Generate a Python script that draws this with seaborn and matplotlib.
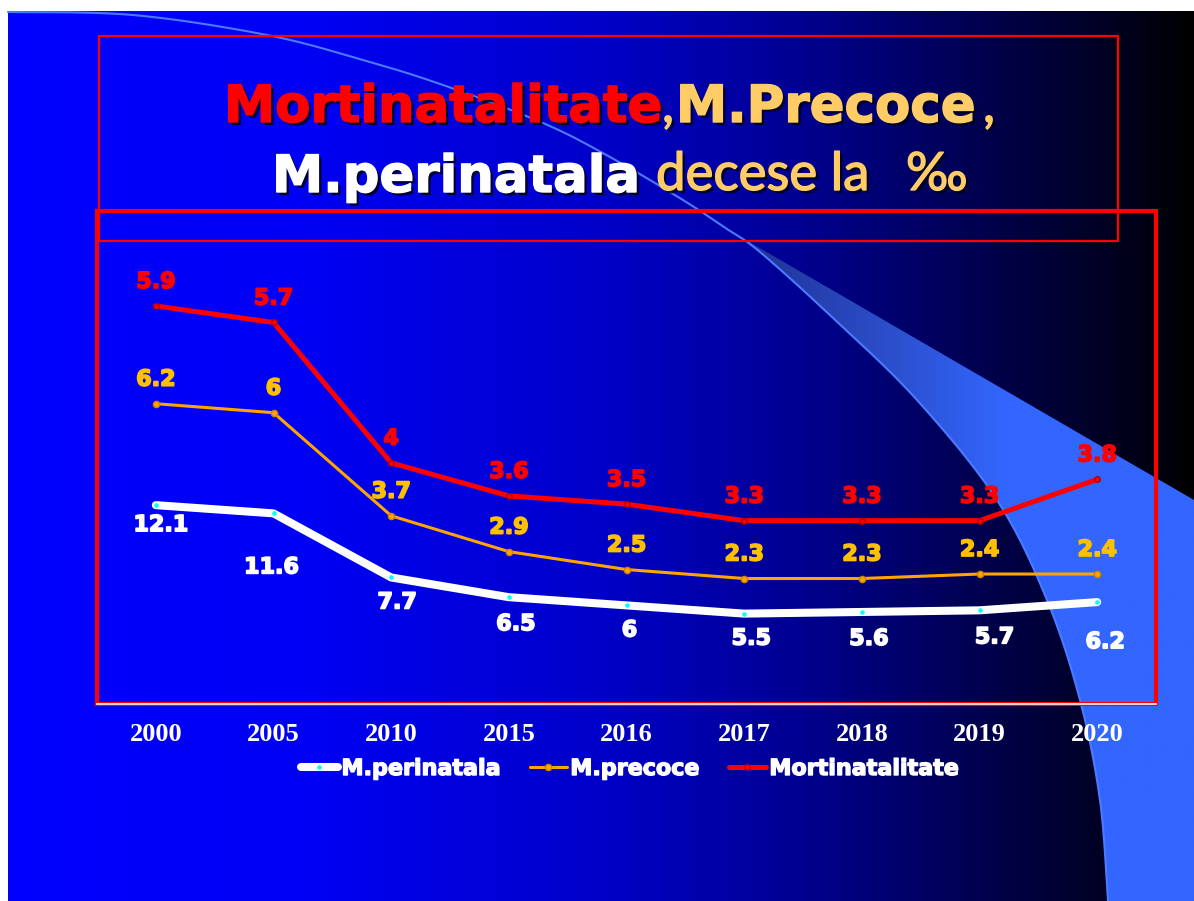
import numpy as np
import pandas as pd
import seaborn as sns
import matplotlib.pyplot as plt
import matplotlib.patheffects as pe
from matplotlib.patches import Rectangle, Polygon

# data
years = ['2000', '2005', '2010', '2015', '2016', '2017', '2018', '2019', '2020']
perinatala = [12.1, 11.6, 7.7, 6.5, 6, 5.5, 5.6, 5.7, 6.2]
precoce = [6.2, 6, 3.7, 2.9, 2.5, 2.3, 2.3, 2.4, 2.4]
mortinatalitate = [5.9, 5.7, 4, 3.6, 3.5, 3.3, 3.3, 3.3, 3.8]

# label offsets in pixels (dx, dy), dy positive = up
off_white = [(5, -20), (-2, -54), (6, -25), (7, -27), (3, -25), (7, -25), (7, -27), (15, -27), (8, -40)]

sns.set_theme(style='white')
plt.rcParams['font.family'] = ['DejaVu Sans']

W, H = 1194, 901
fig = plt.figure(figsize=(W / 100, H / 100), dpi=100, facecolor='white')


def smooth(pts, n=20):
    # catmull-rom through the given points
    p = np.array(pts, dtype=float)
    p = np.vstack([p[0], p, p[-1]])
    out = []
    for i in range(1, len(p) - 2):
        p0, p1, p2, p3 = p[i - 1], p[i], p[i + 1], p[i + 2]
        for t in np.linspace(0, 1, n, endpoint=False):
            t2, t3 = t * t, t * t * t
            out.append(0.5 * (2 * p1 + (-p0 + p2) * t + (2 * p0 - 5 * p1 + 4 * p2 - p3) * t2
                              + (-p0 + 3 * p1 - 3 * p2 + p3) * t3))
    out.append(p[-2])
    return [tuple(q) for q in out]


# ---- slide background ----
bg = fig.add_axes([0, 0, 1, 1], zorder=0)
bg.set_xlim(0, W)
bg.set_ylim(H, 0)
bg.axis('off')
gx = np.linspace(0, 1, 800)
blue = np.interp(gx, [0, .25, .5, .67, .84, .95, 1], [255, 245, 200, 144, 70, 25, 0]) / 255
grad = np.zeros((1, 800, 3))
grad[0, :, 2] = blue
bg.imshow(grad, extent=(8, W, H, 11), aspect='auto', interpolation='bilinear')

upper = smooth([(8, 12), (133, 15), (267, 35), (363, 60), (443, 85), (543, 123), (610, 157),
                (683, 200), (727, 229)])
lower = smooth([(727, 229), (760, 252), (833, 318), (917, 400), (997, 500),
                (1047, 600), (1080, 700), (1100, 800), (1108, 901)])
band = Polygon(lower + [(W, H), (W, 500)], closed=True, fc='none', ec='none')
bg.add_patch(band)
bx = np.linspace(0, 1, 400)
bgrad = np.zeros((1, 400, 3))
bgrad[0, :, 0] = np.interp(bx, [0, .35, .6, 1], [0.12, 0.17, 0.2, 0.2])
bgrad[0, :, 1] = np.interp(bx, [0, .35, .6, 1], [0.18, 0.31, 0.4, 0.4])
bgrad[0, :, 2] = np.interp(bx, [0, .35, .6, 1], [0.55, 0.8, 1.0, 1.0])
im = bg.imshow(bgrad, extent=(727, W, H, 229), aspect='auto', interpolation='bilinear')
im.set_clip_path(band)
cx, cy = zip(*(upper + lower))
bg.plot(cx, cy, color='#4A7BFF', lw=1.5)

# ---- boxes and title ----
ov = fig.add_axes([0, 0, 1, 1], zorder=1)
ov.set_xlim(0, W)
ov.set_ylim(H, 0)
ov.axis('off')
ov.patch.set_alpha(0)
ov.add_patch(Rectangle((99, 36), 1019, 205, fill=False, ec='red', lw=1.6))
ov.add_patch(Rectangle((97, 211), 1059, 493, fill=False, ec='red', lw=3))


def fx(color, w=1.0, shadow=True):
    eff = [pe.Stroke(linewidth=w, foreground=color), pe.Normal()]
    if shadow:
        eff = [pe.SimplePatchShadow(offset=(2.2, -2.2), shadow_rgbFace='#000018', alpha=0.85)] + eff
    return eff


heavy = dict(family='DejaVu Sans', weight='bold', size=37)
light = dict(family=['Lato', 'DejaVu Sans'], weight='normal', size=38)
title_pieces = [
    ('Mortinatalitate', 224, 122, '#FF0000', heavy),
    (',', 662, 122, '#FFCC66', light),
    ('M.Precoce', 676, 122, '#FFCC66', heavy),
    (',', 983, 122, '#FFCC66', light),
    ('M.perinatala', 272, 192, '#FFFFFF', heavy),
    ('decese la', 656, 190, '#FFCC66', light),
    ('\u2030', 906, 190, '#FFCC66', light),
]
for txt, x, y, c, font in title_pieces:
    ov.text(x, y, txt, color=c, ha='left', va='baseline', path_effects=fx(c), **font)

# ---- chart ----
df = pd.DataFrame({'pos': range(len(years)), 'M.perinatala': perinatala,
                   'M.precoce': precoce, 'Mortinatalitate': mortinatalitate})

ax = fig.add_axes([97 / W, 1 - 704 / H, 1059 / W, 493 / H], zorder=2)
ax.patch.set_alpha(0)
ax2 = ax.twinx()
ax3 = ax.twinx()

sns.lineplot(data=df, x='pos', y='M.perinatala', ax=ax, color='white', lw=5.8,
             marker='o', ms=2.5, mfc='cyan', mec='cyan', solid_capstyle='round',
             solid_joinstyle='round', label='M.perinatala', legend=False)
sns.lineplot(data=df, x='pos', y='M.precoce', ax=ax2, color='#FFA500', lw=2.2,
             marker='o', ms=4.5, mfc='#FFA500', mec='#D08000', mew=1,
             label='M.precoce', legend=False)
sns.lineplot(data=df, x='pos', y='Mortinatalitate', ax=ax3, color='#FF0000', lw=3.6,
             marker='o', ms=4, mfc='#FF0000', mec='#B00000', mew=1,
             solid_joinstyle='round', label='Mortinatalitate', legend=False)

ax.set_ylim(0, 30)
ax2.set_ylim(-0.5, 10.5)
ax3.set_ylim(1.08, 7.05)
ax.set_xlim(-0.5, 8.5)

lab = dict(family='DejaVu Sans', weight='bold', size=16)
for i, v in enumerate(perinatala):
    dx, dy = off_white[i]
    ax.annotate(f'{v:g}', (i, v), xytext=(dx * 0.72, dy * 0.72), textcoords='offset points',
                ha='center', va='center', color='white',
                path_effects=fx('white', 1.2, False), **lab)
for i, v in enumerate(precoce):
    ax2.annotate(f'{v:g}', (i, v), xytext=(0, 24 * 0.72), textcoords='offset points',
                 ha='center', va='center', color='#FFC000',
                 path_effects=fx('#FFC000', 1.2, False), **lab)
for i, v in enumerate(mortinatalitate):
    ax3.annotate(f'{v:g}', (i, v), xytext=(0, 24 * 0.72), textcoords='offset points',
                 ha='center', va='center', color='#FF0000',
                 path_effects=fx('#FF0000', 1.2, False), **lab)

for a in (ax, ax2, ax3):
    a.set_yticks([])
    a.set_ylabel('')
    a.set_xlabel('')
    for s in a.spines.values():
        s.set_visible(False)
ax.spines['bottom'].set_visible(True)
ax.spines['bottom'].set_color('white')
ax.spines['bottom'].set_linewidth(1.2)

ax.set_xticks(range(len(years)))
ax.set_xticklabels(years, family='Liberation Serif', weight='bold', size=19, color='white')
ax.tick_params(axis='x', length=0, pad=14)

handles = [ax.get_lines()[0], ax2.get_lines()[0], ax3.get_lines()[0]]
leg = fig.legend(handles, ['M.perinatala', 'M.precoce', 'Mortinatalitate'], loc='center',
                 bbox_to_anchor=(630 / W, 1 - 769 / H), ncol=3, frameon=False,
                 prop=dict(family='DejaVu Sans', weight='bold', size=16), labelcolor='white',
                 handlelength=1.68, handletextpad=0.15, columnspacing=1.3)
for t in leg.get_texts():
    t.set_path_effects(fx('white', 1.0, False))
leg.set_zorder(10)

fig.savefig('out.png', dpi=100, facecolor='white')
